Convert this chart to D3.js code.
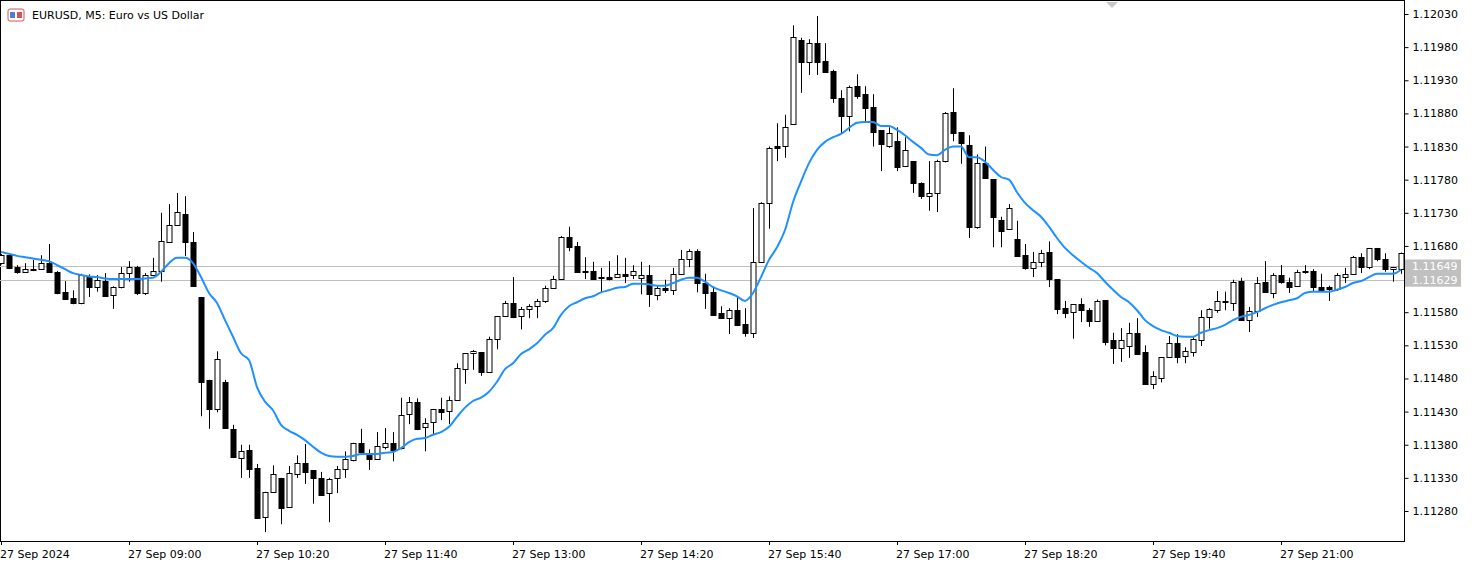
<!DOCTYPE html>
<html>
<head>
<meta charset="utf-8">
<script src="https://cdn.jsdelivr.net/npm/d3@7"></script>
<style>
  body { margin: 0; background: #fff; }
  text { font-family: "DejaVu Sans", sans-serif; font-size: 11px; fill: #000; }
</style>
</head>
<body>
<div id="chart"></div>
<script>
// prices in points (0.00001) above 1.11000, one per 5-minute bar from 07:40
const opens = [654,666,648,641,645,645,654,641,611,601,594,635,618,627,606,618,639,648,609,636,
  642,686,712,728,686,603,478,434,475,404,360,372,345,271,309,330,285,336,352,342,
  330,307,330,343,358,383,367,358,377,383,375,427,445,407,414,434,431,447,494,518,
  520,490,540,574,594,574,586,590,597,617,630,693,680,642,642,633,633,633,638,636,
  632,636,607,617,614,638,660,672,624,610,579,571,583,562,549,656,745,831,830,864,
  991,958,986,959,944,903,876,921,909,890,855,831,838,801,808,775,755,760,808,882,
  852,832,709,805,781,719,706,690,666,647,656,671,630,586,580,592,583,567,598,538,
  526,529,549,520,472,481,513,534,513,521,538,573,583,597,595,627,568,582,626,609,
  636,626,620,641,642,618,618,615,633,637,663,648,677,660,645,645];
const highs = [668,668,651,654,659,666,683,642,627,613,638,637,636,639,619,648,657,650,639,662,
  730,743,760,755,701,603,478,521,478,410,380,380,351,309,349,330,348,364,381,342,
  339,330,348,370,383,404,373,399,405,399,451,452,450,420,434,451,453,503,518,523,
  520,543,574,597,633,588,592,600,620,635,695,709,686,663,656,647,657,666,662,651,
  656,651,621,629,647,674,675,675,638,619,589,586,604,586,737,746,830,865,878,1013,
  994,992,1027,986,946,915,922,939,921,909,855,859,859,844,808,776,808,810,882,918,
  852,847,818,830,781,724,743,718,683,671,674,687,630,597,592,601,586,599,598,549,
  556,564,571,530,491,512,544,547,527,542,583,586,612,611,629,632,588,633,657,639,
  651,632,644,651,645,638,620,639,647,665,669,677,677,669,648,670];
const lows = [652,645,638,640,642,644,640,607,600,592,592,603,611,604,585,616,626,606,606,636,
  626,686,712,665,620,423,404,429,404,360,330,330,268,248,309,260,285,330,321,291,
  304,263,307,330,355,369,342,358,373,355,373,411,402,370,395,417,411,447,472,493,
  484,490,524,574,571,554,571,571,594,617,630,672,641,630,630,609,628,633,624,630,
  607,588,598,609,606,638,648,610,585,576,570,547,559,543,541,655,706,808,813,864,
  911,938,938,941,896,850,853,902,866,830,793,828,793,799,760,751,733,731,806,838,
  804,692,706,781,678,678,706,665,644,633,648,618,577,571,540,565,558,567,530,502,
  505,511,518,472,464,474,512,503,503,513,529,555,579,583,582,568,550,573,611,601,
  623,609,620,638,612,611,597,612,624,637,639,645,657,641,626,638];
const closes = [666,647,641,645,645,654,641,609,601,594,636,618,629,604,618,639,648,609,636,642,
  687,712,731,686,620,475,434,509,405,362,371,343,269,309,336,285,337,352,339,330,
  304,328,343,358,383,369,358,378,383,373,425,445,405,413,434,429,447,496,518,521,
  490,540,574,594,573,585,590,597,617,630,694,678,641,642,630,633,630,638,635,642,
  636,607,617,614,638,660,672,624,609,576,571,583,561,549,656,745,828,828,859,995,
  958,986,958,942,903,876,920,906,888,852,834,850,799,825,775,755,760,808,880,850,
  835,709,805,783,724,703,737,665,647,656,669,630,585,579,592,583,567,597,535,526,
  538,549,518,472,484,512,534,513,521,540,573,585,597,595,626,568,582,624,611,636,
  626,618,641,642,618,614,615,636,637,663,648,677,660,645,648,669];
// moving average
const maLine = [671,668,665,663,661,659,657,651,645,639,636,634,633,631,630,630,630,630,631,632,
  641,654,662,662,654,633,609,594,568,543,518,508,467,445,432,410,401,395,387,377,
  368,363,362,362,363,366,366,366,368,369,375,384,389,390,395,399,407,422,436,446,
  451,460,475,494,503,517,524,533,546,556,576,589,595,601,604,610,613,617,618,623,
  623,622,620,620,624,629,632,632,626,618,613,609,604,597,609,633,659,678,704,746,
  777,805,825,837,844,849,858,866,867,867,861,861,855,847,837,828,818,817,825,830,
  830,814,814,807,795,784,780,761,745,734,724,709,692,677,666,656,647,639,626,614,
  603,595,583,568,559,553,549,544,543,543,549,553,556,561,568,573,576,580,586,591,
  595,598,601,609,611,611,611,614,618,624,627,633,638,638,638,644];
const priceTicks = d3.range(280, 1031, 50);
const priceLines = [649, 629];
const timeLabels = ["27 Sep 2024","27 Sep 09:00","27 Sep 10:20","27 Sep 11:40","27 Sep 13:00",
  "27 Sep 14:20","27 Sep 15:40","27 Sep 17:00","27 Sep 18:20","27 Sep 19:40","27 Sep 21:00"];
const title = "EURUSD, M5:  Euro vs US Dollar";

const width = 1472, height = 563;
const plotRight = 1404, plotBottom = 541;
const fmt = p => (1.11 + p / 100000).toFixed(5);

const bars = opens.map((o, i) => ({ i, o, h: highs[i], l: lows[i], c: closes[i] }));

const x = d3.scaleLinear().domain([0, bars.length - 1]).range([1, 1401]);
const y = d3.scaleLinear().domain([280, 1030]).range([511, 14]);

const svg = d3.select('#chart').append('svg')
  .attr('width', width).attr('height', height);

// frame
svg.append('rect').attr('x', 0.5).attr('y', 0.5)
  .attr('width', plotRight).attr('height', plotBottom)
  .attr('fill', 'none').attr('stroke', '#000');

// bid/ask lines
svg.append('g').selectAll('line').data(priceLines).join('line')
  .attr('x1', 0).attr('x2', plotRight)
  .attr('y1', d => Math.round(y(d)) + 0.5).attr('y2', d => Math.round(y(d)) + 0.5)
  .attr('stroke', '#c0c0c0');

// candles
const cg = svg.append('g');
cg.selectAll('line').data(bars).join('line')
  .attr('x1', d => Math.round(x(d.i)) + 0.5).attr('x2', d => Math.round(x(d.i)) + 0.5)
  .attr('y1', d => y(d.h)).attr('y2', d => y(d.l))
  .attr('stroke', '#000');
cg.selectAll('rect').data(bars).join('rect')
  .attr('x', d => Math.round(x(d.i)) - 2)
  .attr('y', d => Math.round(y(Math.max(d.o, d.c))) + 0.5)
  .attr('width', 5)
  .attr('height', d => Math.max(1, Math.round(Math.abs(y(d.o) - y(d.c)))))
  .attr('fill', d => d.c >= d.o ? '#fff' : '#000')
  .attr('stroke', '#000');

// moving average
svg.append('path').datum(maLine)
  .attr('fill', 'none').attr('stroke', '#1e90ff').attr('stroke-width', 2)
  .attr('d', d3.line().x((d, i) => x(i)).y(d => y(d)).curve(d3.curveMonotoneX));

// price axis
const yAxis = d3.axisRight(y).tickValues(priceTicks).tickFormat(fmt).tickSize(4);
svg.append('g').attr('transform', `translate(${plotRight + 0.5},0)`).call(yAxis)
  .call(g => g.select('.domain').remove())
  .call(g => g.selectAll('text').attr('x', 8).style('font-family', '"DejaVu Sans"').style('font-size', '11px'));

// price labels for lines
const pl = svg.append('g').selectAll('g').data(priceLines).join('g')
  .attr('transform', d => `translate(${plotRight + 1},${y(d)})`);
pl.append('rect').attr('x', 0).attr('y', -7).attr('width', 56).attr('height', 14).attr('fill', '#c0c0c0');
pl.append('text').attr('x', 7).attr('dy', '0.35em').style('fill', '#fff').text(d => fmt(d));

// time axis
svg.append('g').selectAll('text').data(timeLabels).join('text')
  .attr('x', (d, k) => k === 0 ? 0 : x(16 * k) - 1)
  .attr('y', 558).text(d => d);
svg.append('g').selectAll('line').data(timeLabels).join('line')
  .attr('x1', (d, k) => Math.round(x(16 * k)) + 0.5).attr('x2', (d, k) => Math.round(x(16 * k)) + 0.5)
  .attr('y1', plotBottom).attr('y2', plotBottom + 4).attr('stroke', '#000');

// title with icon
const ic = svg.append('g').attr('transform', 'translate(8,9)');
ic.append('rect').attr('width', 16).attr('height', 12).attr('rx', 2).attr('fill', '#fff').attr('stroke', '#d9534f');
ic.append('rect').attr('x', 2).attr('y', 3).attr('width', 5).attr('height', 6).attr('fill', '#4a7fd4');
ic.append('rect').attr('x', 9).attr('y', 3).attr('width', 5).attr('height', 6).attr('fill', '#d9534f');
svg.append('text').attr('x', 32).attr('y', 19).text(title);

// marker triangle at top
svg.append('path').attr('d', 'M1106,2 L1118,2 L1112,8 Z').attr('fill', '#c8c8c8');
</script>
</body>
</html>
